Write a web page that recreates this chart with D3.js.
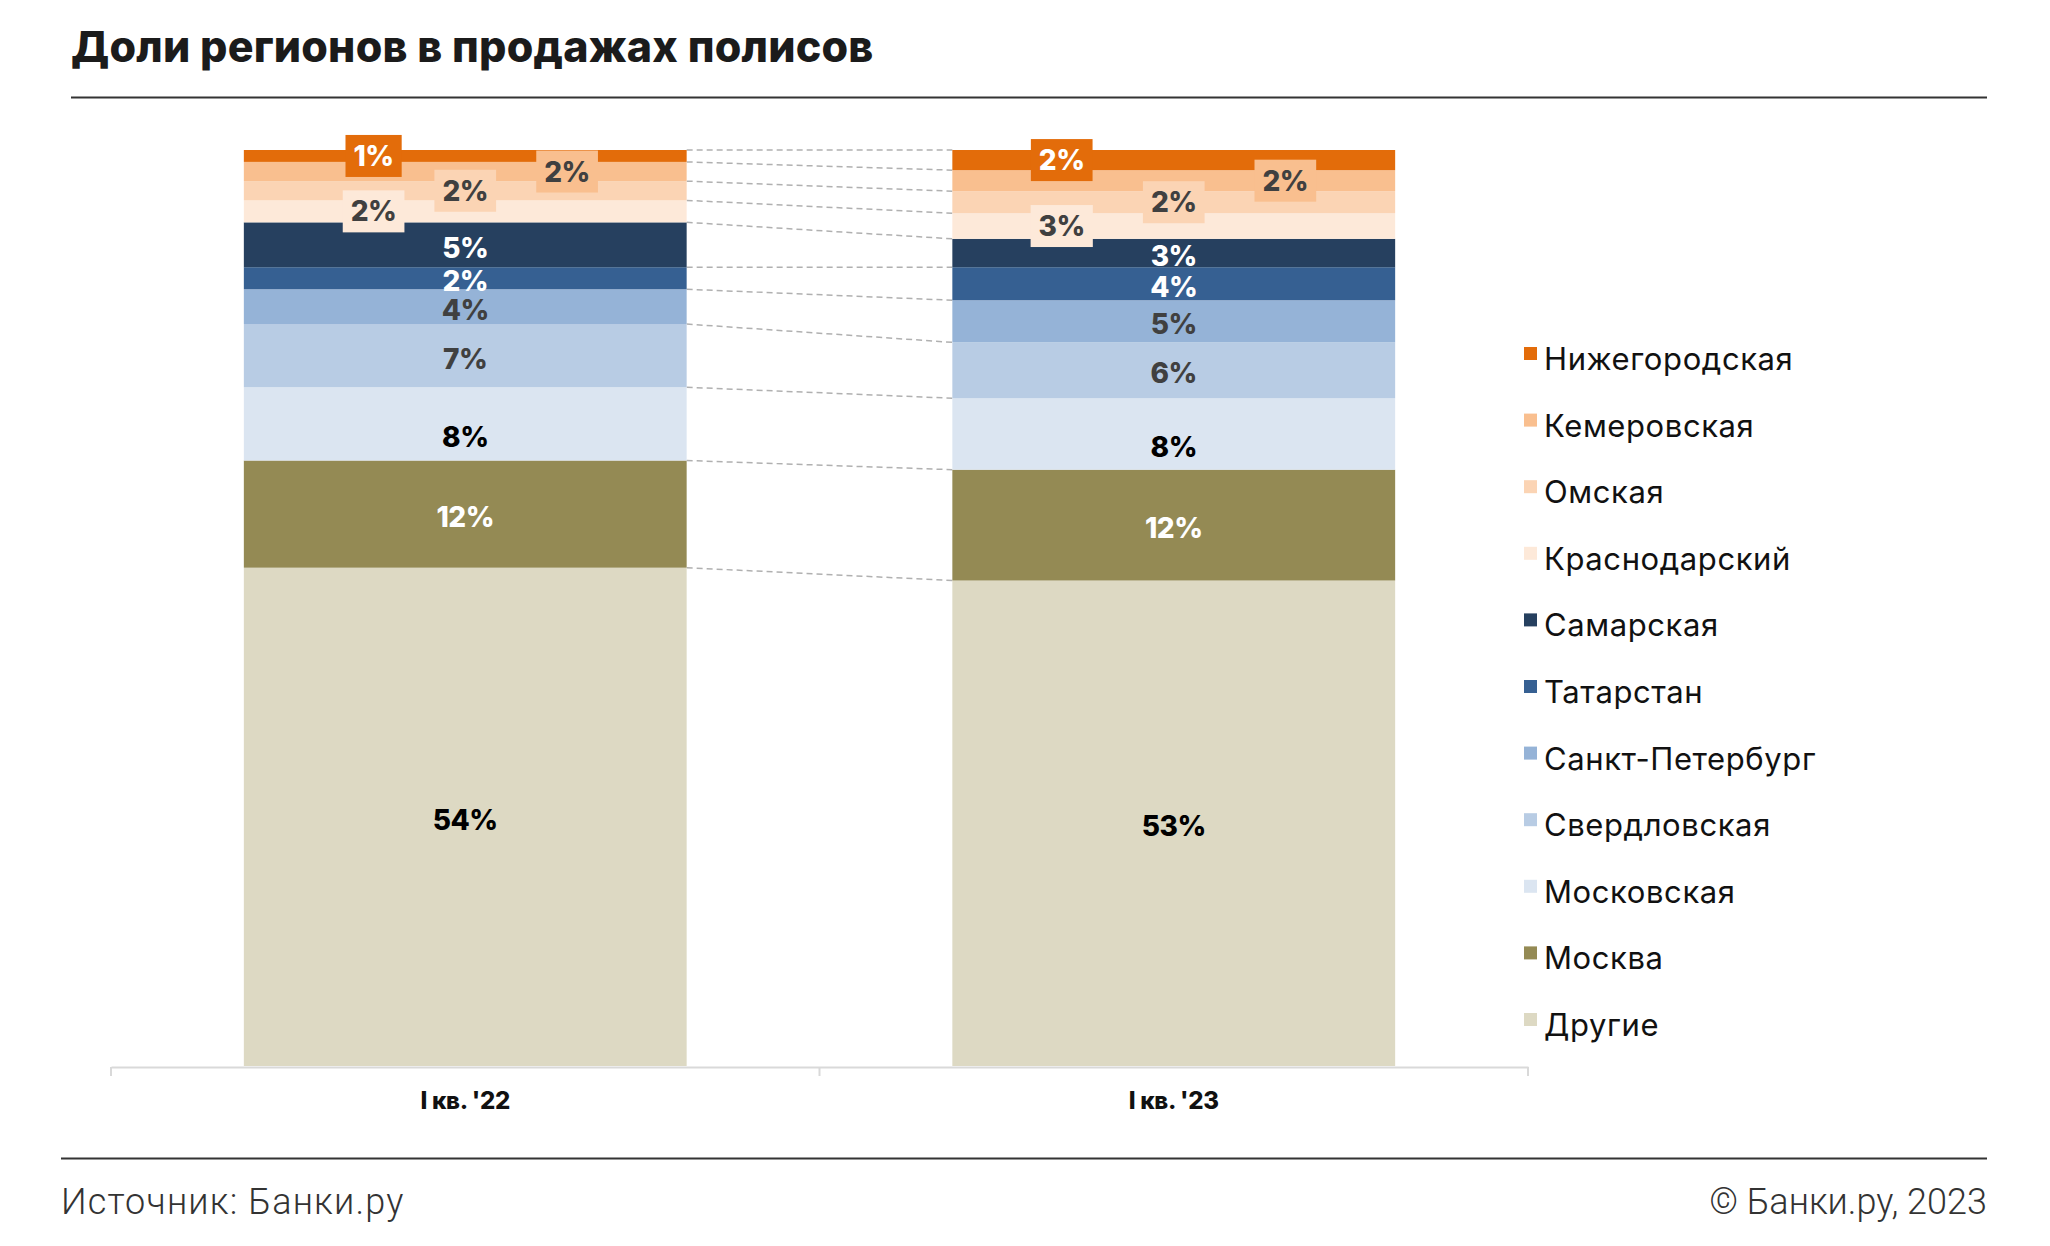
<!DOCTYPE html>
<html><head><meta charset="utf-8">
<script src="https://cdn.jsdelivr.net/npm/d3@7"></script>
<style>
html,body{margin:0;padding:0;background:#fff;}
svg{display:block;}
</style></head>
<body>
<svg id="chart" width="2050" height="1246"></svg>
<script>
// ---- data ----
const categories = ["I кв. '22", "I кв. '23"];
const regions = ["Нижегородская","Кемеровская","Омская","Краснодарский","Самарская","Татарстан","Санкт-Петербург","Свердловская","Московская","Москва","Другие"];
const share2022 = [1.3, 2.1, 2.1, 2.4, 4.9, 2.4, 3.8, 6.9, 8.0, 11.7, 54.4];
const share2023 = [2.2, 2.3, 2.4, 2.8, 3.1, 3.6, 4.6, 6.1, 7.8, 12.1, 53.0];
const regionColors = ["#E36C0A","#F9BF8F","#FBD4B4","#FDE9D9","#26405F","#366092","#95B3D7","#B8CCE4","#DBE5F1","#948A54","#DDD9C3"];
const labelColors = ["#fff","#404040","#404040","#404040","#fff","#fff","#404040","#404040","#000","#fff","#000"];
// boxed labels for thin segments: horizontal position as fraction of bar width, per category
const boxedLabelPos = {
  "Нижегородская": [0.293, 0.247],
  "Кемеровская":   [0.73, 0.752],
  "Омская":        [0.5, 0.5],
  "Краснодарский": [0.293, 0.247]
};
// extra vertical nudge for some labels (px)
const labelNudge = {"Московская": 10};

const rows = categories.map((c, ci) => {
  const o = {category: c};
  const src = ci === 0 ? share2022 : share2023;
  regions.forEach((r, i) => o[r] = src[i]);
  return o;
});

const svg = d3.select("#chart");

// ---- header / footer ----
svg.append("text").attr("x", 71).attr("y", 62)
  .attr("font-family", "Inter, sans-serif").attr("font-weight", 800)
  .attr("font-size", 43).attr("fill", "#1b1b1b").attr("letter-spacing", 0.2)
  .text("Доли регионов в продажах полисов");
svg.append("line").attr("x1", 71).attr("x2", 1987).attr("y1", 97.5).attr("y2", 97.5)
  .attr("stroke", "#333").attr("stroke-width", 2);
svg.append("line").attr("x1", 61).attr("x2", 1987).attr("y1", 1158.5).attr("y2", 1158.5)
  .attr("stroke", "#333").attr("stroke-width", 2);
svg.append("text").attr("x", 61).attr("y", 1214)
  .attr("font-family", "Roboto, sans-serif").attr("font-weight", 300)
  .attr("font-size", 36).attr("letter-spacing", 1.2).attr("fill", "#333").text("Источник: Банки.ру");
svg.append("text").attr("x", 1987).attr("y", 1214).attr("text-anchor", "end")
  .attr("font-family", "Roboto, sans-serif").attr("font-weight", 300)
  .attr("font-size", 36).attr("fill", "#333").text("© Банки.ру, 2023");

// ---- scales ----
const x = d3.scaleBand().domain(categories).range([111, 1528]).padding(0);
const barW = x.bandwidth() * 0.625;
const y = d3.scaleLinear().domain([0, 100]).range([1066, 150]);
const color = d3.scaleOrdinal().domain(regions).range(regionColors);

const keys = regions.slice().reverse(); // bottom first
const series = d3.stack().keys(keys)(rows);
const barX = c => x(c) + (x.bandwidth() - barW) / 2;

// connectors
const conn = svg.append("g");
series.forEach(s => {
  conn.append("line")
    .attr("x1", barX(categories[0]) + barW).attr("y1", y(s[0][1]))
    .attr("x2", barX(categories[1])).attr("y2", y(s[1][1]))
    .attr("stroke", "#b0b0b0").attr("stroke-width", 1.5).attr("stroke-dasharray", "6,4");
});

// bars
const g = svg.append("g");
series.forEach(s => {
  g.append("g").attr("fill", color(s.key))
    .selectAll("rect").data(s).join("rect")
    .attr("x", d => barX(d.data.category))
    .attr("y", d => y(d[1]))
    .attr("width", barW)
    .attr("height", d => y(d[0]) - y(d[1]));
});

// axis
const axisY = 1067;
const axis = svg.append("g").attr("transform", `translate(0,${axisY})`)
  .call(d3.axisBottom(x).tickSize(0).tickPadding(25));
axis.select(".domain").attr("stroke", "#d9d9d9").attr("stroke-width", 2);
axis.selectAll(".tick text").attr("font-family", "Inter, sans-serif").attr("font-weight", 800)
  .attr("font-size", 24).attr("fill", "#111").attr("letter-spacing", -0.3);
const tickXs = [x.range()[0]].concat(categories.map(c => x(c) + x.bandwidth()));
svg.append("g").selectAll("line").data(tickXs).join("line")
  .attr("x1", d => d).attr("x2", d => d).attr("y1", axisY).attr("y2", axisY + 9)
  .attr("stroke", "#d9d9d9").attr("stroke-width", 2);

// labels
const fmt = d3.format(".0f");
const lab = svg.append("g").attr("font-family", "Inter, sans-serif").attr("font-weight", 800)
  .attr("font-size", 28).attr("letter-spacing", -0.5);
series.forEach(s => {
  const ri = regions.indexOf(s.key);
  s.forEach((d, ci) => {
    const boxed = boxedLabelPos[s.key];
    const cy = (y(d[0]) + y(d[1])) / 2 + (boxed ? 0 : 3) + (labelNudge[s.key] || 0);
    const cx = boxed ? barX(d.data.category) + barW * boxed[ci] : barX(d.data.category) + barW / 2;
    const grp = lab.append("g");
    const t = grp.append("text").attr("x", cx).attr("y", cy).attr("dy", "0.36em")
      .attr("text-anchor", "middle").attr("fill", labelColors[ri])
      .text(fmt(d[1] - d[0]) + "%");
    if (boxed) {
      const bb = t.node().getBBox();
      grp.insert("rect", "text").attr("x", cx - bb.width / 2 - 8).attr("y", cy - 21)
        .attr("width", bb.width + 16).attr("height", 42).attr("fill", color(s.key));
    }
  });
});

// legend
const leg = svg.append("g").attr("transform", "translate(1524,370)");
regions.forEach((r, i) => {
  const row = leg.append("g").attr("transform", `translate(0,${i * 66.6})`);
  row.append("rect").attr("x", 0).attr("y", -23).attr("width", 13).attr("height", 13).attr("fill", color(r));
  row.append("text").attr("x", 20).attr("y", 0).attr("font-family", "Inter, sans-serif")
    .attr("font-size", 31).attr("font-weight", 400).attr("letter-spacing", 0.6).attr("fill", "#111").text(r);
});
</script>
</body></html>
